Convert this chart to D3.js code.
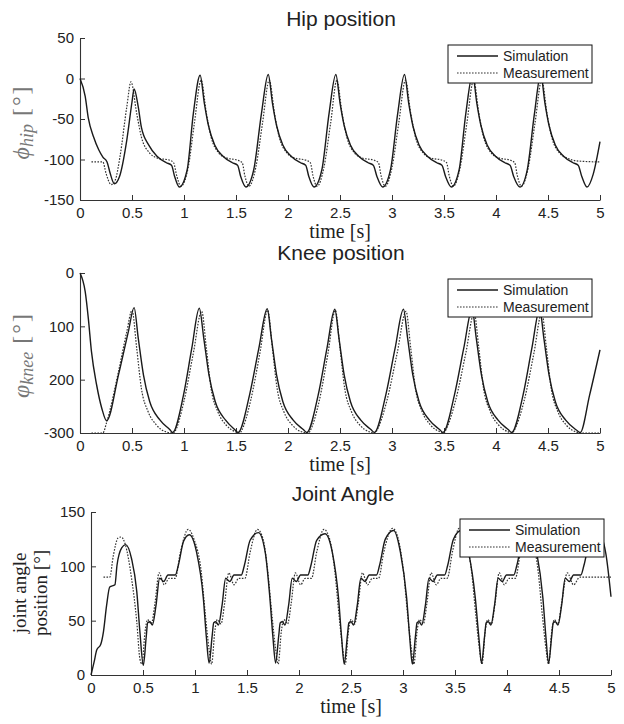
<!DOCTYPE html>
<meta charset="utf-8">
<script src="https://cdn.jsdelivr.net/npm/d3@7"></script>
<style>
  body { margin: 0; background: #fff; }
  svg text { font-family: "Liberation Sans", Arial, sans-serif; fill: #222; }
</style>
<div id="chart"></div>
<script>

// shared time axis
var timeTicks = [0, 0.5, 1, 1.5, 2, 2.5, 3, 3.5, 4, 4.5, 5];
var seriesNames = ["Simulation", "Measurement"];

// Hip position [deg], pairs of [time, value]
var hipTicks = [-150, -100, -50, 0, 50];
var hipSim = [
  [0,0],[0.05,-22],[0.08,-49],[0.13,-72],[0.18,-88],[0.22,-97],[0.26,-103],[0.29,-117],[0.33,-130],[0.38,-121],[0.45,-76],[0.5,-29],[0.52,-13],
  [0.56,-35],[0.59,-60],[0.66,-82],[0.74,-96],[0.83,-104],[0.88,-107],[0.91,-121],[0.955,-134],[1.03,-113],[1.09,-43],[1.155,4],
  [1.195,-30],[1.235,-58],[1.295,-82],[1.375,-96],[1.465,-104],[1.515,-107],[1.545,-121],[1.595,-134],[1.67,-113],[1.745,-43],[1.81,5],
  [1.85,-30],[1.89,-58],[1.95,-82],[2.03,-96],[2.12,-104],[2.17,-107],[2.2,-121],[2.25,-134],[2.325,-113],[2.395,-43],[2.46,5],
  [2.5,-30],[2.54,-58],[2.6,-82],[2.68,-96],[2.77,-104],[2.82,-107],[2.855,-121],[2.91,-134],[2.985,-113],[3.055,-43],[3.12,5],
  [3.16,-30],[3.2,-58],[3.26,-82],[3.34,-96],[3.43,-104],[3.48,-107],[3.515,-121],[3.57,-134],[3.645,-113],[3.71,-43],[3.775,5],
  [3.815,-30],[3.855,-58],[3.915,-82],[3.995,-96],[4.085,-104],[4.135,-107],[4.17,-121],[4.23,-134],[4.3,-113],[4.37,-43],[4.43,5],
  [4.47,-30],[4.51,-58],[4.57,-82],[4.65,-96],[4.74,-104],[4.79,-107],[4.825,-121],[4.875,-134],[4.935,-118],[5.0,-78]
];
var hipMeas = [
  [0.11,-103],[0.22,-103],[0.25,-117],[0.3,-131],[0.34,-125],[0.385,-96],[0.45,-35],[0.49,-4],
  [0.545,-43],[0.59,-72],[0.67,-92],[0.74,-98],[0.865,-101],[0.9,-104],[0.93,-120],[0.97,-133],[1.04,-110],[1.1,-55],[1.165,-2],
  [1.215,-43],[1.26,-72],[1.335,-92],[1.405,-98],[1.52,-101],[1.56,-104],[1.585,-120],[1.625,-133],[1.69,-110],[1.755,-55],[1.82,-2],
  [1.87,-43],[1.915,-72],[1.99,-92],[2.06,-98],[2.175,-101],[2.215,-104],[2.24,-120],[2.28,-133],[2.345,-110],[2.41,-55],[2.47,-2],
  [2.52,-43],[2.565,-72],[2.64,-92],[2.71,-98],[2.83,-101],[2.87,-104],[2.895,-120],[2.935,-133],[3.0,-110],[3.065,-55],[3.13,-2],
  [3.18,-43],[3.225,-72],[3.3,-92],[3.37,-98],[3.485,-101],[3.525,-104],[3.55,-120],[3.59,-133],[3.655,-110],[3.72,-55],[3.785,-2],
  [3.835,-43],[3.88,-72],[3.955,-92],[4.025,-98],[4.14,-101],[4.18,-104],[4.205,-120],[4.245,-133],[4.31,-110],[4.375,-55],[4.44,-2],
  [4.49,-43],[4.535,-72],[4.61,-92],[4.68,-98],[4.8,-102],[5.0,-103]
];

// Knee position [deg] (axis printed 0, 100, 200, -300 from top to bottom)
var kneeTicks = [-300, -200, -100, 0];
var kneeTickLabels = ["-300", "200", "100", "0"];
var kneeSim = [
  [0,0],[0.05,-35],[0.08,-85],[0.11,-147],[0.16,-210],[0.21,-254],[0.256,-277],[0.37,-191],[0.465,-110],[0.52,-65],
  [0.56,-122],[0.61,-191],[0.67,-241],[0.77,-276],[0.865,-294],[0.89,-299],[0.995,-229],[1.075,-141],[1.147,-66],
  [1.19,-122],[1.24,-191],[1.3,-241],[1.4,-276],[1.49,-294],[1.52,-299],[1.63,-229],[1.72,-141],[1.8,-67],
  [1.84,-122],[1.89,-191],[1.95,-241],[2.05,-276],[2.15,-294],[2.18,-299],[2.29,-229],[2.375,-141],[2.45,-68],
  [2.49,-122],[2.54,-191],[2.6,-241],[2.7,-276],[2.8,-294],[2.83,-299],[2.94,-229],[3.03,-141],[3.11,-68],
  [3.15,-122],[3.2,-191],[3.26,-241],[3.36,-276],[3.46,-294],[3.49,-299],[3.6,-229],[3.69,-141],[3.77,-68],
  [3.81,-122],[3.86,-191],[3.92,-241],[4.02,-276],[4.12,-294],[4.15,-299],[4.26,-229],[4.345,-141],[4.42,-68],
  [4.46,-122],[4.51,-191],[4.57,-241],[4.67,-276],[4.77,-294],[4.81,-299],[4.9,-229],[5.0,-144]
];
var kneeMeas = [
  [0.11,-300],[0.22,-300],[0.256,-280],[0.37,-185],[0.45,-110],[0.5,-70],
  [0.545,-141],[0.59,-216],[0.655,-260],[0.735,-285],[0.83,-298],[0.9,-300],[0.91,-298],[1.0,-240],[1.09,-150],[1.17,-72],
  [1.215,-141],[1.26,-216],[1.325,-260],[1.405,-285],[1.5,-298],[1.54,-300],[1.55,-297],[1.64,-240],[1.73,-150],[1.805,-70],
  [1.85,-141],[1.895,-216],[1.96,-260],[2.04,-285],[2.135,-298],[2.2,-300],[2.21,-297],[2.3,-240],[2.385,-150],[2.455,-70],
  [2.5,-141],[2.545,-216],[2.61,-260],[2.69,-285],[2.785,-298],[2.84,-300],[2.85,-297],[2.95,-240],[3.05,-150],[3.135,-72],
  [3.18,-141],[3.225,-216],[3.29,-260],[3.37,-285],[3.465,-298],[3.5,-300],[3.51,-297],[3.61,-240],[3.71,-150],[3.79,-75],
  [3.835,-141],[3.88,-216],[3.945,-260],[4.025,-285],[4.12,-298],[4.16,-300],[4.17,-297],[4.27,-240],[4.365,-150],[4.44,-75],
  [4.485,-141],[4.53,-216],[4.595,-260],[4.675,-285],[4.77,-298],[4.82,-300],[5.0,-300]
];

// Joint angle [deg]
var jointTicks = [0, 50, 100, 150];
var jointSim = [
  [0,0],[0.03,12],[0.055,23],[0.093,28],[0.12,40],[0.15,64],[0.18,81],[0.23,83],[0.25,101],[0.295,117],[0.333,120],[0.39,107],[0.44,77],[0.47,40],[0.503,9],
  [0.53,34],[0.545,48],[0.567,49],[0.59,46],[0.625,64],[0.66,89],[0.7,86],[0.74,92],[0.81,92],[0.84,101],[0.89,123],[0.945,129],[1.015,113],[1.08,71],[1.11,34],[1.135,11],
  [1.165,36],[1.18,48],[1.2,49],[1.225,46],[1.26,64],[1.295,89],[1.335,86],[1.375,92],[1.445,92],[1.475,101],[1.53,124],[1.61,131],[1.675,113],[1.72,71],[1.75,34],[1.775,11],
  [1.805,36],[1.82,48],[1.84,49],[1.865,46],[1.9,64],[1.935,89],[1.975,86],[2.015,92],[2.085,92],[2.115,101],[2.17,124],[2.25,130],[2.32,113],[2.38,71],[2.41,34],[2.435,10],
  [2.465,36],[2.48,48],[2.5,49],[2.525,46],[2.56,64],[2.595,89],[2.635,86],[2.675,92],[2.745,92],[2.775,101],[2.83,125],[2.91,133],[2.975,113],[3.035,71],[3.065,34],[3.09,10],
  [3.12,36],[3.135,48],[3.155,49],[3.18,46],[3.215,64],[3.25,89],[3.29,86],[3.33,92],[3.4,92],[3.43,101],[3.485,125],[3.56,133],[3.63,113],[3.695,71],[3.73,34],[3.755,11],
  [3.785,36],[3.8,48],[3.82,49],[3.845,46],[3.88,64],[3.915,89],[3.955,86],[3.995,92],[4.065,92],[4.095,101],[4.15,125],[4.22,133],[4.285,113],[4.345,71],[4.375,34],[4.4,11],
  [4.43,36],[4.445,48],[4.465,49],[4.49,46],[4.525,64],[4.56,89],[4.6,86],[4.64,92],[4.71,92],[4.74,101],[4.8,125],[4.88,131],[4.95,112],[5.0,72]
];
var jointMeas = [
  [0.12,90],[0.18,90],[0.215,110],[0.26,126],[0.29,127],[0.33,120],[0.39,89],[0.44,49],[0.47,15],[0.49,10],
  [0.52,40],[0.545,51],[0.58,47],[0.615,66],[0.655,94],[0.705,83],[0.75,89],[0.81,89],[0.86,113],[0.935,134],[0.99,125],[1.06,95],[1.1,55],[1.135,24],[1.16,10],
  [1.19,40],[1.215,51],[1.25,47],[1.285,66],[1.325,94],[1.375,83],[1.42,89],[1.48,89],[1.53,113],[1.6,134],[1.655,125],[1.7,95],[1.74,55],[1.775,24],[1.8,10],
  [1.83,40],[1.855,51],[1.89,47],[1.925,66],[1.965,94],[2.015,83],[2.06,89],[2.12,89],[2.17,113],[2.24,134],[2.295,125],[2.345,95],[2.385,55],[2.42,24],[2.445,10],
  [2.475,40],[2.5,51],[2.535,47],[2.57,66],[2.61,94],[2.66,83],[2.705,89],[2.765,89],[2.815,113],[2.9,135],[2.955,125],[3.005,95],[3.045,55],[3.08,24],[3.105,10],
  [3.135,40],[3.16,51],[3.195,47],[3.23,66],[3.27,94],[3.32,83],[3.365,89],[3.425,89],[3.475,113],[3.54,135],[3.595,125],[3.66,95],[3.7,55],[3.735,24],[3.76,10],
  [3.79,40],[3.815,51],[3.85,47],[3.885,66],[3.925,94],[3.975,83],[4.02,89],[4.08,89],[4.13,113],[4.19,135],[4.245,125],[4.3,95],[4.34,55],[4.375,24],[4.4,10],
  [4.43,40],[4.455,51],[4.49,47],[4.525,66],[4.58,94],[4.64,83],[4.7,90],[5.0,90]
];

var svg = d3.select("#chart")
  .append("svg")
    .attr("width", 624)
    .attr("height", 724);

function drawPanel(p) {
  var x = d3.scaleLinear().domain([0, 5]).range([p.left, p.right]);
  var y = d3.scaleLinear().domain(p.yDomain).range([p.bottom, p.top]);
  var g = svg.append("g");

  // bottom axis, ticks pointing inward
  var xa = g.append("g")
    .attr("transform", "translate(0," + p.bottom + ")")
    .call(d3.axisBottom(x).tickValues(timeTicks).tickSizeInner(-5).tickSizeOuter(0)
      .tickPadding(7).tickFormat(function(d){ return String(d); }));
  // left axis
  var ya = g.append("g")
    .attr("transform", "translate(" + p.left + ",0)")
    .call(d3.axisLeft(y).tickValues(p.yTicks).tickSizeInner(-5).tickSizeOuter(0)
      .tickPadding(6).tickFormat(function(d, i){ return p.yLabels ? p.yLabels[i] : String(d); }));
  [xa, ya].forEach(function(a){
    a.select(".domain").attr("stroke", "#333").attr("stroke-width", 1.1);
    a.selectAll(".tick line").attr("stroke", "#333");
    a.selectAll(".tick text").style("font-size", "15px").attr("fill", "#222");
  });

  var line = d3.line()
    .x(function(d){ return x(d[0]); })
    .y(function(d){ return y(d[1]); })
    .curve(d3.curveMonotoneX);

  g.append("path").datum(p.meas)
    .attr("fill", "none").attr("stroke", "#333").attr("stroke-width", 1.2)
    .attr("stroke-dasharray", "1.6,1.4").attr("d", line);
  g.append("path").datum(p.sim)
    .attr("fill", "none").attr("stroke", "#1a1a1a").attr("stroke-width", 1.4)
    .attr("d", line);

  // title
  g.append("text")
    .attr("x", p.titleX).attr("y", p.titleY)
    .attr("text-anchor", "middle")
    .style("font-size", "21px")
    .text(p.title);

  // x label
  g.append("text")
    .attr("x", (p.left + p.right) / 2).attr("y", p.bottom + 38)
    .attr("text-anchor", "middle")
    .style("font-family", "'Liberation Serif', 'DejaVu Serif', serif")
    .style("font-size", "20px")
    .text("time [s]");

  // legend
  var lg = g.append("g").attr("transform", "translate(" + p.legX + "," + p.legY + ")");
  lg.append("rect").attr("width", 144).attr("height", 38)
    .attr("fill", "#fff").attr("stroke", "#111").attr("stroke-width", 1);
  seriesNames.forEach(function(name, i){
    var ly = 11 + i * 17;
    lg.append("line").attr("x1", 9).attr("x2", 50).attr("y1", ly).attr("y2", ly)
      .attr("stroke", i == 0 ? "#1a1a1a" : "#333")
      .attr("stroke-width", i == 0 ? 1.4 : 1.2)
      .attr("stroke-dasharray", i == 0 ? null : "1.6,1.4");
    lg.append("text").attr("x", 55).attr("y", ly + 5)
      .style("font-size", "14px").text(name);
  });
  return g;
}

var g1 = drawPanel({left: 80, right: 600, top: 38, bottom: 200, yDomain: [-150, 50],
  yTicks: hipTicks, sim: hipSim, meas: hipMeas, title: "Hip position", titleX: 341, titleY: 26,
  legX: 448, legY: 45});
var g2 = drawPanel({left: 80, right: 600, top: 273, bottom: 433, yDomain: [-300, 0],
  yTicks: kneeTicks, yLabels: kneeTickLabels, sim: kneeSim, meas: kneeMeas,
  title: "Knee position", titleX: 341, titleY: 260, legX: 448, legY: 279});
var g3 = drawPanel({left: 91, right: 611, top: 512, bottom: 675, yDomain: [0, 150],
  yTicks: jointTicks, sim: jointSim, meas: jointMeas, title: "Joint Angle", titleX: 343, titleY: 501,
  legX: 460, legY: 519});

// y labels (LaTeX style)
function phiLabel(g, cx, cy, sym, sub) {
  var t = g.append("text")
    .attr("transform", "translate(" + cx + "," + cy + ") rotate(-90)")
    .attr("text-anchor", "middle")
    .attr("fill", "#777")
    .style("font-family", "'Liberation Serif', 'DejaVu Serif', serif")
    .style("font-size", "24px");
  t.append("tspan").attr("fill", "#777").style("font-style", "italic").text(sym);
  t.append("tspan").attr("fill", "#777").style("font-style", "italic").style("font-size", "18px")
    .attr("dy", 4).text(sub);
  t.append("tspan").attr("fill", "#777").attr("dy", -4).attr("letter-spacing", "2px").text(" [°]");
}
phiLabel(g1, 29, 122, "ϕ", "hip");
phiLabel(g2, 29, 355, "φ", "knee");

g3.append("text")
  .attr("transform", "translate(26,593) rotate(-90)")
  .attr("text-anchor", "middle")
  .attr("fill", "#555")
  .style("font-family", "'Liberation Serif', 'DejaVu Serif', serif")
  .style("font-size", "19px")
  .text("joint angle");
g3.append("text")
  .attr("transform", "translate(47,593) rotate(-90)")
  .attr("text-anchor", "middle")
  .attr("fill", "#555")
  .style("font-family", "'Liberation Serif', 'DejaVu Serif', serif")
  .style("font-size", "19px")
  .text("position [°]");

</script>
